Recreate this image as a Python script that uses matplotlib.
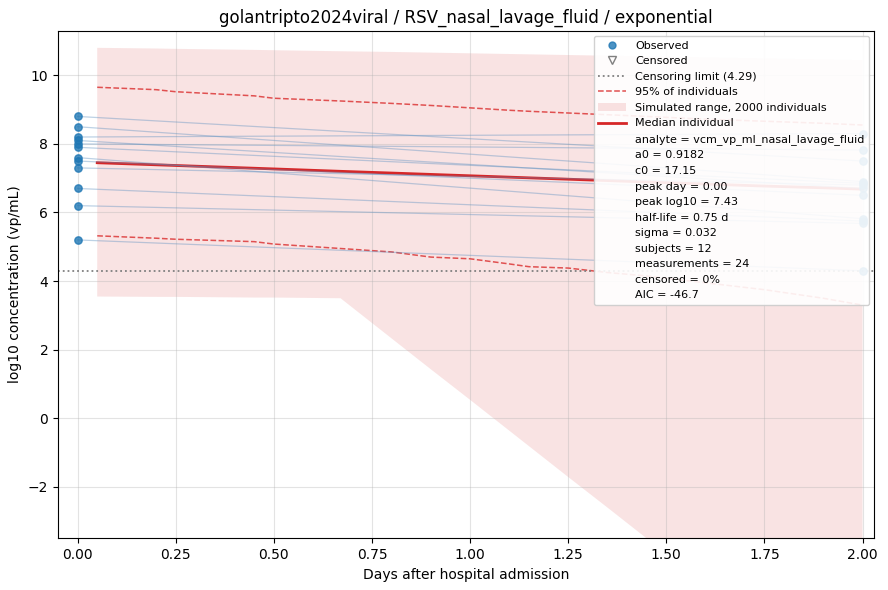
import numpy as np
import matplotlib.pyplot as plt
from matplotlib.lines import Line2D
from matplotlib.patches import Patch

# observed data (day 0 and day 2 per subject)
day0 = [8.8, 8.5, 8.2, 8.1, 8.0, 7.9, 7.6, 7.5, 7.3, 6.7, 6.2, 5.2]
day2 = [7.5, 6.9, 8.3, 6.7, 7.82, 6.85, 5.82, 6.5, 6.8, 5.75, 5.68, 4.3]
lod = 4.29

# simulated curves
t = [0.05, 0.2, 0.25, 0.45, 0.5, 0.67, 0.8, 0.9, 1.0, 1.1, 1.15, 1.25, 1.35, 1.45, 1.6, 1.75, 1.9, 2.0]
band_hi = [10.8, 10.78, 10.77, 10.74, 10.73, 10.7, 10.68, 10.66, 10.64, 10.62, 10.61, 10.59, 10.57, 10.55, 10.52, 10.49, 10.46, 10.44]
band_lo = [3.55, 3.54, 3.54, 3.52, 3.52, 3.5, 2.33, 1.43, 0.54, -0.36, -0.81, -1.71, -2.6, -3.5, -4.85, -6.2, -7.54, -8.44]
p95_hi = [9.65, 9.58, 9.52, 9.4, 9.33, 9.25, 9.18, 9.12, 9.05, 8.98, 8.95, 8.9, 8.85, 8.8, 8.72, 8.66, 8.6, 8.55]
p95_lo = [5.32, 5.25, 5.22, 5.15, 5.08, 4.95, 4.85, 4.7, 4.65, 4.5, 4.42, 4.38, 4.25, 4.15, 3.95, 3.75, 3.5, 3.3]
median = [7.45, 7.39, 7.37, 7.29, 7.27, 7.2, 7.15, 7.11, 7.07, 7.03, 7.01, 6.97, 6.93, 6.89, 6.83, 6.77, 6.72, 6.68]

stats = [
    "analyte = vcm_vp_ml_nasal_lavage_fluid",
    "a0 = 0.9182",
    "c0 = 17.15",
    "peak day = 0.00",
    "peak log10 = 7.43",
    "half-life = 0.75 d",
    "sigma = 0.032",
    "subjects = 12",
    "measurements = 24",
    "censored = 0%",
    "AIC = -46.7",
]

fig, ax = plt.subplots(figsize=(8.88, 5.9), dpi=100)

ax.fill_between(t, band_lo, band_hi, color="#e06666", alpha=0.18, linewidth=0)
ax.plot(t, p95_hi, "--", color="#e05050", linewidth=1.1)
ax.plot(t, p95_lo, "--", color="#e05050", linewidth=1.1)
ax.plot(t, median, color="#d62728", linewidth=2)
ax.axhline(lod, color="gray", linestyle=":", linewidth=1.3)

for a, b in zip(day0, day2):
    ax.plot([0, 2], [a, b], color="#5b8fc0", alpha=0.4, linewidth=0.9)
ax.scatter([0] * len(day0) + [2] * len(day2), day0 + day2, s=28,
           color="#1f77b4", alpha=0.8, zorder=3)

handles = [
    Line2D([], [], marker="o", linestyle="none", color="#1f77b4", alpha=0.8, markersize=5),
    Line2D([], [], marker="v", linestyle="none", markerfacecolor="none",
           markeredgecolor="gray", markersize=6),
    Line2D([], [], color="gray", linestyle=":", linewidth=1.3),
    Line2D([], [], color="#e05050", linestyle="--", linewidth=1.1),
    Patch(facecolor="#e06666", alpha=0.18),
    Line2D([], [], color="#d62728", linewidth=2),
] + [Line2D([], [], linestyle="none") for _ in stats]
labels = ["Observed", "Censored", f"Censoring limit ({lod})", "95% of individuals",
          "Simulated range, 2000 individuals", "Median individual"] + stats
ax.legend(handles, labels, loc="upper right", fontsize=8, framealpha=0.9,
          handlelength=2.5, labelspacing=0.5)

ax.set_xlim(-0.05, 2.03)
ax.set_ylim(-3.5, 11.3)
ax.grid(True, alpha=0.35)
ax.set_xlabel("Days after hospital admission")
ax.set_ylabel("log10 concentration (vp/mL)")
ax.set_title("golantripto2024viral / RSV_nasal_lavage_fluid / exponential")

plt.tight_layout(pad=0.6)
plt.savefig("out.png", dpi=100)
